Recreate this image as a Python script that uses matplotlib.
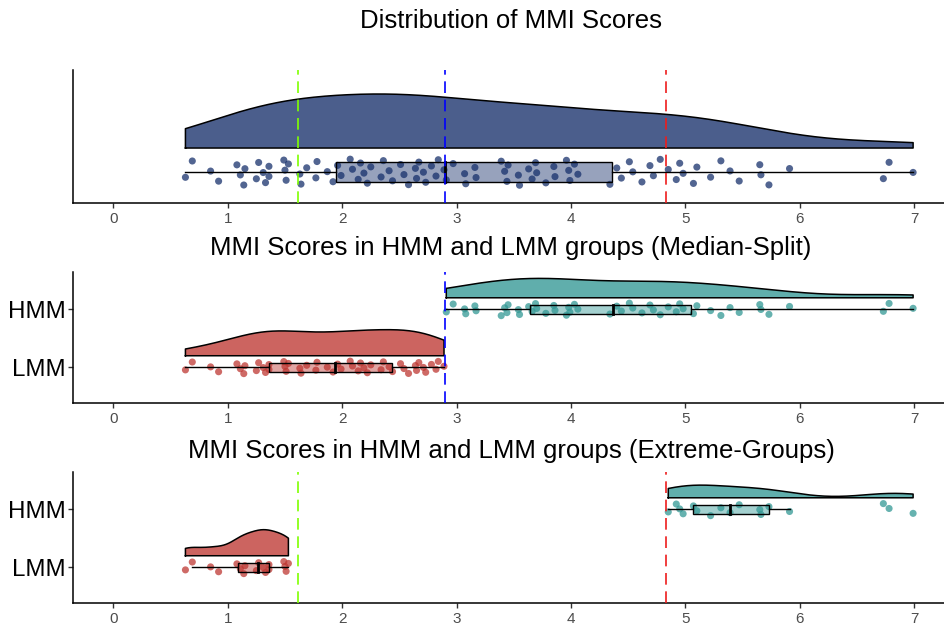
import numpy as np
import matplotlib
matplotlib.use("Agg")
import matplotlib.pyplot as plt
from matplotlib.patches import Rectangle

plt.rcParams['font.family'] = ['Liberation Sans', 'DejaVu Sans']

# MMI scores, lower half (LMM) and upper half (HMM)
lmm_scores = [0.63, 0.69, 0.85, 0.92, 1.08, 1.11, 1.14, 1.15, 1.25, 1.27,
              1.31, 1.33, 1.36, 1.36, 1.49, 1.50, 1.51, 1.53,
              1.63, 1.64, 1.69, 1.77, 1.78, 1.87, 1.92, 1.96,
              1.99, 2.07, 2.09, 2.14, 2.16, 2.19, 2.22, 2.25, 2.34, 2.36, 2.41,
              2.44, 2.51, 2.54, 2.58, 2.64, 2.65, 2.67, 2.71, 2.73, 2.78, 2.82,
              2.84, 2.89]
hmm_scores = [2.91, 2.97, 3.07, 3.08, 3.16, 3.17, 3.39, 3.42, 3.44, 3.45,
              3.54, 3.55, 3.63, 3.66, 3.69, 3.70, 3.78, 3.85, 3.86, 3.96,
              3.98, 3.99, 4.03, 4.06, 4.34, 4.40, 4.44, 4.51, 4.54, 4.62,
              4.69, 4.72, 4.78,
              4.85, 4.92, 4.95, 4.98, 5.07, 5.10, 5.22, 5.31, 5.39, 5.47,
              5.65, 5.66, 5.73, 5.91, 6.73, 6.78, 6.99]
mmi_scores = lmm_scores + hmm_scores

# cut-offs drawn as dashed lines
low_cut = 1.61
median_cut = 2.90
high_cut = 4.83

titles = ["Distribution of MMI Scores",
          "MMI Scores in HMM and LMM groups (Median-Split)",
          "MMI Scores in HMM and LMM groups (Extreme-Groups)"]
group_labels = ["LMM", "HMM"]
x_ticks = [0, 1, 2, 3, 4, 5, 6, 7]

navy = "#18316C"
red = "#BE3833"
teal = "#339895"


def nrd0(x):
    x = np.asarray(x)
    q75, q25 = np.percentile(x, [75, 25])
    lo = min(x.std(ddof=1), (q75 - q25) / 1.34)
    return 0.9 * lo * len(x) ** -0.2


def density(x):
    x = np.asarray(x)
    bw = nrd0(x)
    grid = np.linspace(x.min(), x.max(), 512)
    d = np.exp(-0.5 * ((grid[:, None] - x[None, :]) / bw) ** 2).sum(axis=1)
    d = d / (len(x) * bw * np.sqrt(2 * np.pi))
    return grid, d


def raincloud(ax, vals, ypos, color, dmax):
    vals = np.asarray(vals)
    grid, d = density(vals)
    base = ypos + 0.2
    top = base + 0.45 * d / dmax
    xs = np.concatenate([[grid[0]], grid, [grid[-1]]])
    ys = np.concatenate([[base], top, [base]])
    ax.fill(xs, ys, facecolor=color, alpha=0.78, edgecolor="none", zorder=2)
    ax.plot(np.append(xs, xs[0]), np.append(ys, ys[0]), color="black", lw=1.1, zorder=2.1)

    # deterministic jitter
    idx = np.arange(len(vals))
    jit = ((idx * 0.6180339887 + 0.3) % 1 - 0.5) * 0.22
    ax.scatter(vals, ypos + jit, s=26, color=color, alpha=0.75, edgecolors="none", zorder=3)

    q1, med, q3 = np.percentile(vals, [25, 50, 75])
    iqr = q3 - q1
    lo = vals[vals >= q1 - 1.5 * iqr].min()
    hi = vals[vals <= q3 + 1.5 * iqr].max()
    ax.plot([lo, q1], [ypos, ypos], color="black", lw=1.0, zorder=4)
    ax.plot([q3, hi], [ypos, ypos], color="black", lw=1.0, zorder=4)
    ax.add_patch(Rectangle((q1, ypos - 0.08), q3 - q1, 0.16, facecolor=color,
                           alpha=0.45, edgecolor="none", zorder=4))
    ax.add_patch(Rectangle((q1, ypos - 0.08), q3 - q1, 0.16, facecolor="none",
                           edgecolor="black", lw=1.0, zorder=4.1))
    ax.plot([med, med], [ypos - 0.08, ypos + 0.08], color="black", lw=2.0, zorder=4.2)


def style_axis(ax, ylim, with_groups):
    ax.set_xlim(-0.35, 7.26)
    ax.set_ylim(*ylim)
    for s in ["top", "right"]:
        ax.spines[s].set_visible(False)
    for s in ["left", "bottom"]:
        ax.spines[s].set_linewidth(1.1)
    ax.set_xticks(x_ticks)
    ax.tick_params(axis="x", labelsize=11, labelcolor="#4D4D4D", color="#333333",
                   length=3.5, width=1.0, pad=3)
    if with_groups:
        ax.set_yticks([1, 2])
        ax.set_yticklabels(group_labels)
        ax.tick_params(axis="y", labelsize=17.4, labelcolor="black", color="#333333",
                       length=3.5, width=1.0, pad=2)
    else:
        ax.set_yticks([])


def vline(ax, x, color):
    ax.axvline(x, color=color, lw=1.2, linestyle=(0, (7, 4)), zorder=5)


fig = plt.figure(figsize=(9.44, 6.3), dpi=100)
W, H = 944.0, 630.0
left = 73.3 / W


def panel(top_px, bottom_px):
    return fig.add_axes([left, 1 - bottom_px / H, 1 - left, (bottom_px - top_px) / H])


scores = np.array(mmi_scores)

# top panel: all scores
ax1 = panel(70, 203)
g, d = density(scores)
raincloud(ax1, scores, 1, navy, d.max())
vline(ax1, low_cut, "#7FFF00")
vline(ax1, median_cut, "#0000FF")
vline(ax1, high_cut, "#EE1C1C")
style_axis(ax1, (0.742, 1.85), False)

# median split
ax2 = panel(271.7, 402.7)
lmm = scores[scores < median_cut]
hmm = scores[scores >= median_cut]
dmax = max(density(lmm)[1].max(), density(hmm)[1].max())
raincloud(ax2, lmm, 1, red, dmax)
raincloud(ax2, hmm, 2, teal, dmax)
vline(ax2, median_cut, "#0000FF")
style_axis(ax2, (0.39, 2.65), True)

# extreme groups
ax3 = panel(471.7, 602.7)
lmm_x = scores[scores < low_cut]
hmm_x = scores[scores > high_cut]
dmax = max(density(lmm_x)[1].max(), density(hmm_x)[1].max())
raincloud(ax3, lmm_x, 1, red, dmax)
raincloud(ax3, hmm_x, 2, teal, dmax)
vline(ax3, low_cut, "#7FFF00")
vline(ax3, high_cut, "#EE1C1C")
style_axis(ax3, (0.39, 2.65), True)

cx = 511 / W
for t, ypx in zip(titles, [21, 248, 451]):
    fig.text(cx, 1 - ypx / H, t, ha="center", va="center", fontsize=18.5)

fig.savefig("out.png", dpi=100)
